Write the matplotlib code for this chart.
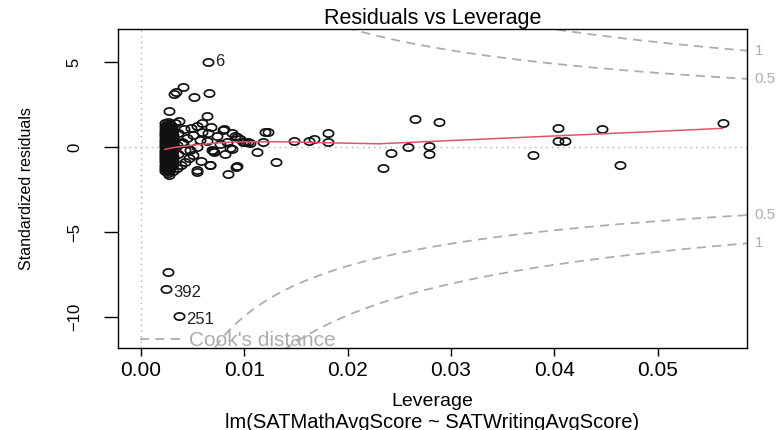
import numpy as np
import matplotlib
matplotlib.use('Agg')
import matplotlib.pyplot as plt
import matplotlib.transforms as mtransforms
from matplotlib.lines import Line2D
from matplotlib.path import Path

plt.rcParams['font.family'] = ['Liberation Sans', 'DejaVu Sans']

# --- data --------------------------------------------------------------
# dense cluster of low-leverage schools
blob_lev = [0.00231, 0.00229, 0.00232, 0.00230, 0.00228, 0.00233, 0.00231, 0.00229, 0.00230, 0.00232, 0.00228,
            0.00231, 0.00233, 0.00229, 0.00230, 0.00232, 0.00228, 0.00231, 0.00229, 0.00233, 0.00230, 0.00232,
            0.00246, 0.00244, 0.00247, 0.00245, 0.00243, 0.00246, 0.00248, 0.00244, 0.00245, 0.00247, 0.00243,
            0.00246, 0.00244, 0.00248, 0.00245, 0.00243, 0.00247, 0.00246, 0.00244, 0.00245, 0.00247,
            0.00262, 0.00260, 0.00263, 0.00261, 0.00264, 0.00262, 0.00259, 0.00263, 0.00261, 0.00262, 0.00264,
            0.00260, 0.00263, 0.00261, 0.00262, 0.00259, 0.00264, 0.00261, 0.00263, 0.00260, 0.00262, 0.00261, 0.00263,
            0.00278, 0.00276, 0.00279, 0.00277, 0.00280, 0.00278, 0.00276, 0.00279, 0.00277, 0.00278, 0.00280,
            0.00276, 0.00279, 0.00277, 0.00278, 0.00280, 0.00276, 0.00278, 0.00279, 0.00277, 0.00278,
            0.00295, 0.00293, 0.00296, 0.00294, 0.00297, 0.00295, 0.00293, 0.00296, 0.00294, 0.00295, 0.00297,
            0.00293, 0.00296, 0.00294, 0.00295, 0.00297, 0.00293, 0.00296,
            0.00311, 0.00309, 0.00312, 0.00310, 0.00311, 0.00309, 0.00312, 0.00310, 0.00311]
blob_res = [1.40, 1.22, 1.07, 0.91, 0.78, 0.63, 0.50, 0.37, 0.24, 0.11, -0.02,
            -0.15, -0.27, -0.40, -0.53, -0.66, -0.78, -0.91, -1.03, -1.16, -1.28, -1.42,
            1.31, 1.15, 0.99, 0.85, 0.71, 0.57, 0.43, 0.30, 0.18, 0.05, -0.09,
            -0.21, -0.34, -0.47, -0.60, -0.72, -0.85, -0.97, -1.10, -1.22, -1.35,
            1.45, 1.27, 1.12, 0.96, 0.82, 0.69, 0.55, 0.42, 0.28, 0.14, 0.01,
            -0.12, -0.24, -0.37, -0.50, -0.63, -0.75, -0.88, -1.00, -1.13, -1.26, -1.39, -1.52,
            1.35, 1.18, 1.02, 0.88, 0.74, 0.60, 0.46, 0.33, 0.20, 0.08, -0.06,
            -0.18, -0.31, -0.44, -0.56, -0.69, -0.82, -0.94, -1.07, -1.20, -1.33,
            1.20, 1.03, 0.87, 0.72, 0.58, 0.44, 0.31, 0.17, 0.04, -0.09, -0.22,
            -0.35, -0.48, -0.61, -0.74, -0.87, -1.00, -1.14,
            0.95, 0.70, 0.45, 0.22, 0.00, -0.25, -0.50, -0.72, -0.98]

# scattered points around and to the right of the cluster
spread_lev = [0.00410, 0.00319, 0.00339, 0.00516, 0.00661, 0.00271, 0.00636, 0.00371, 0.00329, 0.00587,
              0.00539, 0.00484, 0.00416, 0.00678, 0.00593, 0.00797, 0.00878, 0.00926, 0.00733, 0.00506,
              0.00442, 0.00394, 0.00636, 0.00830, 0.00990, 0.01055, 0.01200, 0.00684, 0.00700, 0.00707,
              0.00862, 0.01120, 0.00813, 0.00539, 0.00474, 0.00506, 0.00468, 0.00426, 0.00387, 0.00346,
              0.00539, 0.00668, 0.00926, 0.00842, 0.00274, 0.00313, 0.00410, 0.00571, 0.00803, 0.00354,
              0.00360, 0.00430, 0.00350, 0.00580, 0.00650, 0.00760, 0.00910, 0.00958, 0.01007, 0.01039,
              0.00878, 0.01233, 0.01184, 0.01307, 0.00920, 0.00670, 0.00540, 0.01478, 0.01630, 0.01678,
              0.01807, 0.01807, 0.02340, 0.02420, 0.02653, 0.02585, 0.02785, 0.02785, 0.02882, 0.03792,
              0.04037, 0.04034, 0.04108, 0.04463, 0.04634, 0.05634]
spread_res = [3.55, 3.12, 3.24, 2.92, 3.20, 2.14, 1.82, 1.55, 1.39, 1.43,
              1.24, 1.14, 1.04, 1.20, 0.90, 1.00, 0.80, 0.57, 0.65, 0.71,
              0.51, 0.31, 0.37, 0.31, 0.31, 0.25, 0.90, -0.18, -0.22, -0.27,
              -0.08, -0.27, -0.41, 0.02, -0.18, -0.47, -0.67, -0.86, -1.06, -1.25,
              -1.35, -1.06, -1.12, -1.61, -1.65, -1.39, 0.22, 0.41, 1.08, 0.85,
              -0.40, -0.20, 0.10, -0.80, 0.85, 0.20, 0.67, 0.47, 0.28, 0.28,
              -0.14, 0.86, 0.28, -0.90, -1.16, -1.04, -1.47, 0.35, 0.35, 0.47,
              0.82, 0.29, -1.25, -0.35, 1.65, 0.02, 0.06, -0.39, 1.49, -0.49,
              1.14, 0.37, 0.37, 1.04, -1.06, 1.43]

# labelled / extreme observations
outlier_lev = [0.00649, 0.00258, 0.00242, 0.00371]
outlier_res = [5.00, -7.33, -8.35, -9.92]
outlier_ids = ['6', '', '392', '251']

# lowess smoother (red)
smooth_lev = [0.0023, 0.0030, 0.0040, 0.0055, 0.0070, 0.0090, 0.0130, 0.0180, 0.0230, 0.0300, 0.0400, 0.0500, 0.0563]
smooth_res = [-0.14, -0.05, 0.04, 0.14, 0.22, 0.30, 0.31, 0.25, 0.19, 0.38, 0.65, 0.92, 1.10]

cook_levels = [0.5, 1]
n_coef = 2

x_ticks = [0.00, 0.01, 0.02, 0.03, 0.04, 0.05]
y_ticks = [-10, -5, 0, 5]
x_lim = (-0.00223, 0.05866)
y_lim = (-11.82, 6.94)

grey = '#ADADAD'
red = '#DF536B'

# --- figure --------------------------------------------------------------
fig = plt.figure(figsize=(7.78, 4.30), dpi=100)
ax = fig.add_axes([118/778, 1 - 348/430, 629/778, 319/430])
ax.set_xlim(*x_lim)
ax.set_ylim(*y_lim)

ax.axhline(0, color=grey, lw=1.0, ls=(0, (1, 3)), zorder=1)
ax.axvline(0, color=grey, lw=1.0, ls=(0, (1, 3)), zorder=1)

# R draws round symbols, the picture is stretched sideways -> ellipses
theta = np.linspace(0, 2*np.pi, 41)
ring = Path(np.column_stack([np.cos(theta), 0.70*np.sin(theta)]))

lev = blob_lev + spread_lev + outlier_lev
res = blob_res + spread_res + outlier_res
ax.plot(lev, res, ls='none', marker=ring, ms=7.4, mfc='none', mec='#111111', mew=1.25, zorder=3)

ax.plot(smooth_lev, smooth_res, color=red, lw=1.1, zorder=4)

# Cook's distance contours
hh = np.linspace(0.00002, x_lim[1], 101)
blend = mtransforms.blended_transform_factory(ax.transAxes, ax.transData)
for crit in cook_levels:
    cl = np.sqrt(crit * n_coef * (1 - hh) / hh)
    ax.plot(hh, cl, color=grey, lw=1.3, ls=(0, (5, 3.5)), zorder=2)
    ax.plot(hh, -cl, color=grey, lw=1.3, ls=(0, (5, 3.5)), zorder=2)
    yl = np.sqrt(crit * n_coef * (1 - x_lim[1]) / x_lim[1])
    for s in (1, -1):
        ax.text(1.012, s*yl, f'{crit:g}', transform=blend, ha='left', va='center',
                color=grey, fontsize=11, clip_on=False)

for x, y, lab in zip(outlier_lev, outlier_res, outlier_ids):
    if lab:
        dy = 0 if y > 0 else -2.5
        ax.annotate(lab, (x, y), xytext=(5, dy), textcoords='offset points',
                    ha='left', va='center', fontsize=12, color='#222222')

handle = Line2D([], [], color=grey, lw=1.3, ls=(0, (5, 3.5)))
ax.legend([handle], ["Cook's distance"], loc='lower left', bbox_to_anchor=(0.035, -0.006),
          frameon=False, fontsize=15, labelcolor=grey, handlelength=2.1, handletextpad=0.25,
          borderpad=0, borderaxespad=0)

ax.set_xticks(x_ticks)
ax.set_xticklabels([f'{v:.2f}' for v in x_ticks])
ax.set_yticks(y_ticks)
ax.tick_params(axis='x', length=6, width=1, pad=3, labelsize=15)
ax.tick_params(axis='y', length=10, width=1, pad=16, labelsize=12, labelrotation=90)
for t in ax.get_yticklabels():
    t.set_va('center')
for sp in ax.spines.values():
    sp.set_linewidth(1.0)

ax.set_title('Residuals vs Leverage', fontsize=15.5, pad=3.6)
ax.set_xlabel('Leverage', fontsize=14)
ax.xaxis.set_label_coords(0.5, -0.142)
ax.set_ylabel('Standardized residuals', fontsize=11.5)
ax.yaxis.set_label_coords(-0.133, 0.5)
fig.text(432.5/778, 1 - 422/430, 'lm(SATMathAvgScore ~ SATWritingAvgScore)', fontsize=14.5,
         ha='center', va='center')

fig.savefig('out.png', dpi=100)
